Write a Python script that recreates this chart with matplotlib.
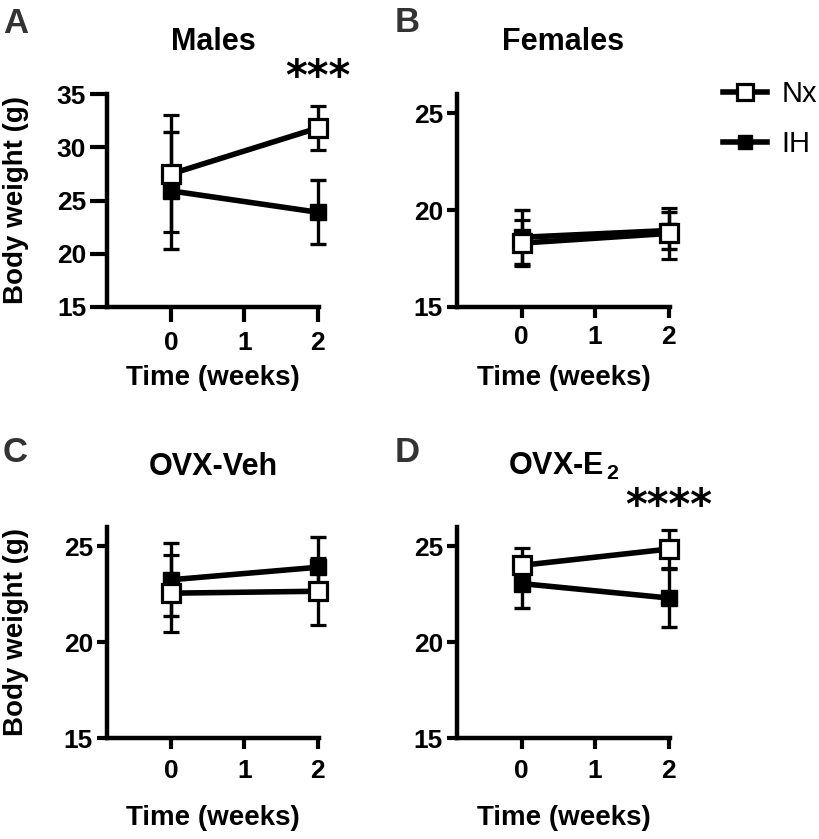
import matplotlib
matplotlib.use("Agg")
import matplotlib.pyplot as plt
from matplotlib.lines import Line2D

plt.rcParams['font.family'] = ['Liberation Sans', 'DejaVu Sans']
plt.rcParams['mathtext.fontset'] = 'custom'
plt.rcParams['mathtext.rm'] = 'Liberation Sans:bold'
plt.rcParams['mathtext.bf'] = 'Liberation Sans:bold'

# data (mean, SD)
weeks = [0, 2]
titles = ["Males", "Females", "OVX-Veh", r"OVX-E$_{\,\mathbf{2}}$"]
letters = ["A", "B", "C", "D"]

males_nx = [27.5, 31.8]
males_nx_err = [5.5, 2.1]
males_ih = [25.9, 23.9]
males_ih_err = [5.5, 3.0]

females_nx = [18.3, 18.8]
females_nx_err = [1.2, 1.3]
females_ih = [18.6, 18.95]
females_ih_err = [1.4, 0.95]

veh_nx = [22.55, 22.65]
veh_nx_err = [2.0, 1.75]
veh_ih = [23.25, 23.9]
veh_ih_err = [1.9, 1.6]

e2_nx = [24.0, 24.85]
e2_nx_err = [0.9, 1.0]
e2_ih = [23.05, 22.3]
e2_ih_err = [1.25, 1.5]

stars = ["***", "", "", "****"]

W, H = 819, 839
fig = plt.figure(figsize=(W / 100, H / 100), dpi=100)


def px_axes(l, t, r, b):
    return fig.add_axes([l / W, 1 - b / H, (r - l) / W, (b - t) / H])


# pixel boxes: left, top, right, bottom
boxes = [(107, 94, 319, 307), (457, 94, 670, 307),
         (107, 527, 319, 738), (457, 527, 670, 738)]
ylims = [(15, 35), (15, 26), (15, 26), (15, 26)]
yticks = [[15, 20, 25, 30, 35], [15, 20, 25], [15, 20, 25], [15, 20, 25]]
series = [(males_nx, males_nx_err, males_ih, males_ih_err),
          (females_nx, females_nx_err, females_ih, females_ih_err),
          (veh_nx, veh_nx_err, veh_ih, veh_ih_err),
          (e2_nx, e2_nx_err, e2_ih, e2_ih_err)]
title_y = [50, 50, 475, 475]
xlabel_y = [378, 378, 818, 818]
letter_pos = [(3, 33), (395, 32), (3, 462), (395, 462)]
star_y = [78, 0, 0, 507]

for i in range(4):
    l, t, r, b = boxes[i]
    ax = px_axes(l, t, r, b)
    nx, nx_err, ih, ih_err = series[i]

    for art in ax.errorbar(weeks, ih, yerr=ih_err, color='black', lw=4,
                           elinewidth=2.4, capsize=6, capthick=2.4,
                           marker='s', markersize=11.5,
                           markerfacecolor='black', markeredgecolor='black',
                           zorder=3).lines:
        for a in (art if isinstance(art, tuple) else [art]):
            if a is not None:
                a.set_clip_on(False)
    for art in ax.errorbar(weeks, nx, yerr=nx_err, color='black', lw=4,
                           elinewidth=2.4, capsize=6, capthick=2.4,
                           marker='s', markersize=12.5,
                           markerfacecolor='white', markeredgecolor='black',
                           markeredgewidth=2.3, zorder=4).lines:
        for a in (art if isinstance(art, tuple) else [art]):
            if a is not None:
                a.set_clip_on(False)

    ax.set_xlim(-0.88, 2.02)
    ax.set_ylim(*ylims[i])
    ax.set_xticks([0, 1, 2])
    ax.set_yticks(yticks[i])
    for s in ['top', 'right']:
        ax.spines[s].set_visible(False)
    for s in ['left', 'bottom']:
        ax.spines[s].set_linewidth(3.2)
        ax.spines[s].set_capstyle('projecting')

    if i == 0:
        ax.tick_params(axis='y', length=12, width=3, pad=3, labelsize=19)
        ax.tick_params(axis='x', length=11, width=3, pad=6, labelsize=19)
    else:
        ax.tick_params(axis='y', length=7, width=3, pad=3, labelsize=19)
        ax.tick_params(axis='x', length=8, width=3,
                       pad=7 if i >= 2 else 5, labelsize=19)
    for lab in ax.get_xticklabels() + ax.get_yticklabels():
        lab.set_fontweight('bold')

    cx = (l + r) / 2 / W
    fig.text(cx, 1 - title_y[i] / H, titles[i], ha='center', va='baseline',
             fontsize=22, fontweight='bold')
    fig.text(cx, 1 - xlabel_y[i] / H, "Time (weeks)", ha='center',
             va='center', fontsize=20, fontweight='bold')
    lx, ly = letter_pos[i]
    fig.text(lx / W, 1 - ly / H, letters[i], ha='left', va='baseline',
             fontsize=25, fontweight='bold', color='#333333')
    if i in (0, 2):
        fig.text(16 / W, 1 - (t + b) / 2 / H, "Body weight (g)",
                 rotation=90, ha='center', va='center', fontsize=20,
                 fontweight='bold')
    if stars[i]:
        sx = ax.transData.transform((2, 0))[0]
        fig.text(sx / W, 1 - star_y[i] / H, stars[i], ha='center',
                 va='center', fontsize=30, family='DejaVu Sans',
                 fontweight='bold')

    if i == 1:
        handles = [Line2D([], [], color='black', lw=4, marker='s',
                          markersize=11, markerfacecolor='white',
                          markeredgewidth=2.3),
                   Line2D([], [], color='black', lw=4, marker='s',
                          markersize=10, markerfacecolor='black')]
        ax.legend(handles, ["Nx", "IH"], loc='upper left',
                  bbox_to_anchor=(723 / W, 1 - 80 / H),
                  bbox_transform=fig.transFigure, frameon=False,
                  fontsize=21, handlelength=1.5, handletextpad=0.5,
                  labelspacing=0.75, borderpad=0, borderaxespad=0)

fig.savefig("out.png", dpi=100)
